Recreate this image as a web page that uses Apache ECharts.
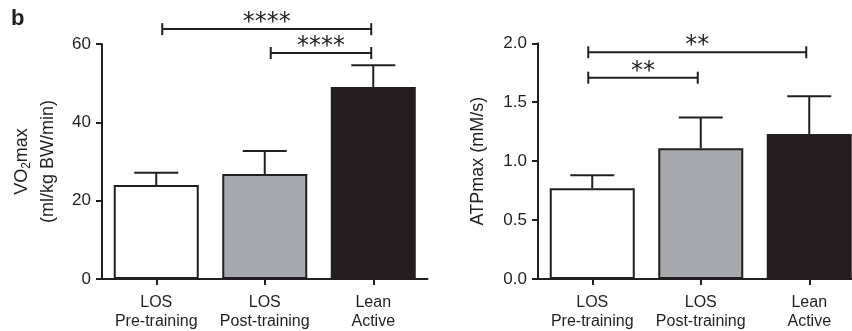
<!DOCTYPE html>
<html><head><meta charset="utf-8">
<script src="https://cdn.jsdelivr.net/npm/echarts@6/dist/echarts.min.js"></script>
<style>html,body{margin:0;padding:0;background:#fff}#c{width:852px;height:331px}</style>
</head><body><div id="c"></div>
<script>
const categories = ['LOS\nPre-training', 'LOS\nPost-training', 'Lean\nActive'];
const vo2Mean = [24.0, 26.8, 49.0];
const vo2Err = [3.1, 5.9, 5.6];
const atpMean = [0.77, 1.11, 1.23];
const atpErr = [0.11, 0.26, 0.32];
const vo2Ticks = [0, 20, 40, 60];
const atpTicks = ['0.0', '0.5', '1.0', '1.5', '2.0'];
// significance brackets: [fromIndex, toIndex, level, label]
const vo2Sig = [[0, 2, 63.8, '****'], [1, 2, 57.7, '****']];
const atpSig = [[0, 2, 1.924, '**'], [0, 1, 1.708, '**']];

const INK = '#231f20';
const barColors = ['#ffffff', '#a7a9ac', '#231f20'];
const FONT = 'Liberation Sans, Arial, sans-serif';

const chart = echarts.init(document.getElementById('c'), null, {renderer: 'canvas'});

function xAxisCfg(gi) {
  return {
    gridIndex: gi, type: 'category', data: categories,
    axisLine: {lineStyle: {color: INK, width: 2}},
    axisTick: {show: true, alignWithLabel: true, length: 6, lineStyle: {color: INK, width: 2}},
    axisLabel: {color: INK, fontSize: 16, fontFamily: FONT, margin: 14, lineHeight: 19, interval: 0},
    splitLine: {show: false}
  };
}
function yAxisCfg(gi, max, interval, name, gap, fmt) {
  return {
    gridIndex: gi, type: 'value', min: 0, max: max, interval: interval,
    name: name, nameLocation: 'middle', nameGap: gap, nameRotate: 90,
    nameTextStyle: {color: INK, fontSize: 18, fontFamily: FONT, lineHeight: 26,
      rich: {a: {fontSize: 18, fontFamily: FONT, color: INK},
             s: {fontSize: 12, fontFamily: FONT, color: INK, padding: [9, 0, 0, 0]}}},
    axisLine: {show: true, lineStyle: {color: INK, width: 2}},
    axisTick: {show: true, length: 6, lineStyle: {color: INK, width: 2}},
    axisLabel: {color: INK, fontSize: 17, fontFamily: FONT, margin: 11, formatter: fmt},
    splitLine: {show: false}
  };
}

function errSeries(gi, mean, err) {
  return {
    type: 'custom', xAxisIndex: gi, yAxisIndex: gi, z: 1,
    data: mean.map((m, i) => [i, m, m + err[i]]),
    renderItem: function (params, api) {
      const lo = api.coord([api.value(0), api.value(1)]);
      const hi = api.coord([api.value(0), api.value(2)]);
      const half = 22;
      return {type: 'group', children: [
        {type: 'line', shape: {x1: lo[0], y1: lo[1], x2: hi[0], y2: hi[1]}, style: {stroke: INK, lineWidth: 2}},
        {type: 'line', shape: {x1: hi[0] - half, y1: hi[1], x2: hi[0] + half, y2: hi[1]}, style: {stroke: INK, lineWidth: 2}}
      ]};
    }
  };
}
function sigSeries(gi, sig, startShift, endShift) {
  return {
    type: 'custom', xAxisIndex: gi, yAxisIndex: gi, z: 3,
    data: sig.map(s => [s[0], s[1], s[2]]),
    renderItem: function (params, api) {
      const a = api.coord([api.value(0), api.value(2)]);
      const b = api.coord([api.value(1), api.value(2)]);
      const x1 = a[0] + startShift, x2 = b[0] + endShift, y = a[1];
      const label = sig[params.dataIndex][3];
      return {type: 'group', children: [
        {type: 'line', shape: {x1: x1, y1: y, x2: x2, y2: y}, style: {stroke: INK, lineWidth: 2}},
        {type: 'line', shape: {x1: x1, y1: y - 6, x2: x1, y2: y + 6}, style: {stroke: INK, lineWidth: 2}},
        {type: 'line', shape: {x1: x2, y1: y - 6, x2: x2, y2: y + 6}, style: {stroke: INK, lineWidth: 2}},
        {type: 'text', style: {x: (x1 + x2) / 2, y: y + 6, text: label, fill: INK,
          font: '24px DejaVu Sans, sans-serif', align: 'center', verticalAlign: 'bottom'}}
      ]};
    }
  };
}

function barSeries(gi, mean) {
  return {
    type: 'bar', xAxisIndex: gi, yAxisIndex: gi, barWidth: 85, z: 2,
    data: mean.map((m, i) => ({value: m, itemStyle: {color: barColors[i]}})),
    itemStyle: {borderColor: INK, borderWidth: 2},
    emphasis: {disabled: true}
  };
}

chart.setOption({
  animation: false,
  grid: [
    {left: 102, top: 44, width: 325.5, height: 235, outerBoundsMode: 'none'},
    {left: 538, top: 43.3, width: 325.5, height: 235.7, outerBoundsMode: 'none'}
  ],
  xAxis: [xAxisCfg(0), xAxisCfg(1)],
  yAxis: [
    yAxisCfg(0, 60, 20, '{a|VO}{s|2}{a|max}\n(ml/kg BW/min)', 41, v => String(v)),
    yAxisCfg(1, 2, 0.5, 'ATPmax (mM/s)', 47, v => v.toFixed(1))
  ],
  series: [
    errSeries(0, vo2Mean, vo2Err), barSeries(0, vo2Mean), sigSeries(0, vo2Sig, 6, -2),
    errSeries(1, atpMean, atpErr), barSeries(1, atpMean), sigSeries(1, atpSig, -4, -3)
  ],
  graphic: [{type: 'text', left: 11, top: 8, style: {text: 'b', fill: INK, font: 'bold 22px ' + FONT}}]
});
</script></body></html>
